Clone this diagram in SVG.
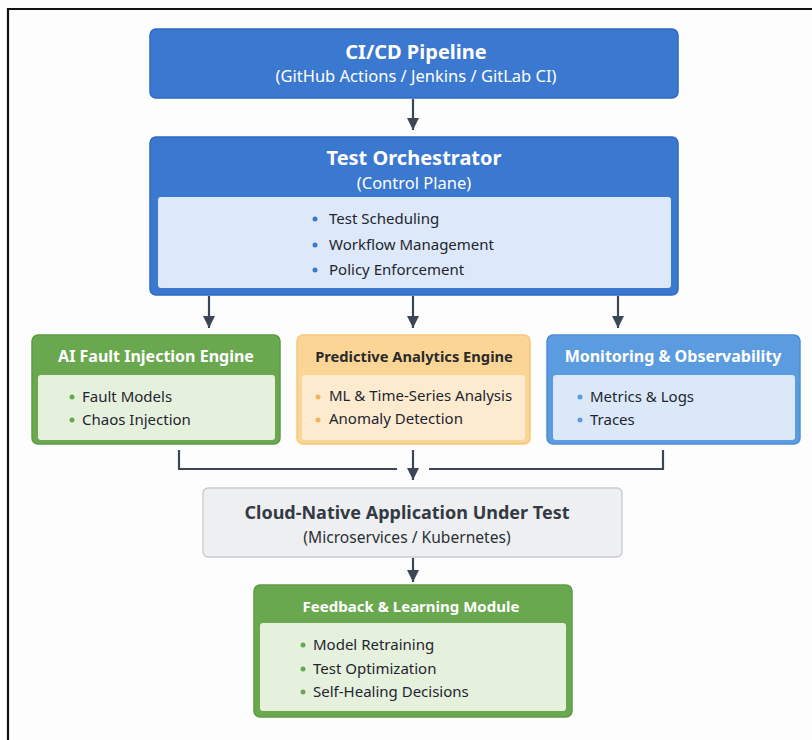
<svg xmlns="http://www.w3.org/2000/svg" width="812" height="740" viewBox="0 0 812 740">
<defs>
<marker id="ah" markerWidth="13" markerHeight="13" refX="12" refY="6.5" orient="auto" markerUnits="userSpaceOnUse" viewBox="0 0 13 13">
<path d="M0,0.5 L12,6.5 L0,12.5 z" fill="#3d4654"/>
</marker>
<style>
text{font-family:"Noto Sans","Open Sans","DejaVu Sans",sans-serif;}
.t{font-weight:bold;fill:#fff;text-anchor:middle;}
.s{fill:#fff;text-anchor:middle;font-size:16.5px;}
.b{fill:#1e2530;font-size:15px;}
.conn{stroke:#3d4654;stroke-width:2.2;fill:none;}
</style>
</defs>
<rect x="0" y="0" width="812" height="740" fill="#fdfdfd"/>
<path d="M8,740 V9 H812" fill="none" stroke="#111" stroke-width="2.2"/>

<g id="cicd">
<rect x="150" y="29" width="528" height="69" rx="6" fill="#3b78d0" stroke="#2f68c2" stroke-width="1.5"/>
<text class="t" x="416" y="59" font-size="20">CI/CD Pipeline</text>
<text class="s" x="416" y="82">(GitHub Actions / Jenkins / GitLab CI)</text>
</g>

<g id="orchestrator">
<rect x="150" y="137" width="528" height="158" rx="6" fill="#3b78d0" stroke="#2f68c2" stroke-width="1.5"/>
<rect x="158" y="197" width="513" height="91" rx="3" fill="#dde9f8"/>
<text class="t" x="414" y="165" font-size="20">Test Orchestrator</text>
<text class="s" x="414" y="189">(Control Plane)</text>
<circle cx="315" cy="219" r="2.5" fill="#3b78d0"/>
<circle cx="315" cy="245" r="2.5" fill="#3b78d0"/>
<circle cx="315" cy="270" r="2.5" fill="#3b78d0"/>
<text class="b" x="329" y="224">Test Scheduling</text>
<text class="b" x="329" y="250">Workflow Management</text>
<text class="b" x="329" y="275">Policy Enforcement</text>
</g>

<g id="fault">
<rect x="32" y="335" width="248" height="109" rx="6" fill="#6aa84f" stroke="#5e9a45" stroke-width="1.5"/>
<rect x="38" y="375" width="237" height="65" rx="3" fill="#e6f1dd"/>
<text class="t" x="156" y="362" font-size="16">AI Fault Injection Engine</text>
<circle cx="72" cy="397" r="2.5" fill="#6aa84f"/>
<circle cx="72" cy="420" r="2.5" fill="#6aa84f"/>
<text class="b" x="82" y="402">Fault Models</text>
<text class="b" x="82" y="425">Chaos Injection</text>
</g>

<g id="predictive">
<rect x="297" y="335" width="233" height="109" rx="6" fill="#fbd596" stroke="#f6c777" stroke-width="1.5"/>
<rect x="302" y="375" width="223" height="65" rx="3" fill="#fdebcf"/>
<text x="414" y="362" font-size="14.7" font-weight="bold" fill="#2a2a2a" text-anchor="middle">Predictive Analytics Engine</text>
<circle cx="318" cy="397" r="2.5" fill="#f3b55a"/>
<circle cx="318" cy="420" r="2.5" fill="#f3b55a"/>
<text class="b" x="329" y="401" font-size="13">ML &amp; Time-Series Analysis</text>
<text class="b" x="329" y="424" font-size="13">Anomaly Detection</text>
</g>

<g id="monitoring">
<rect x="547" y="335" width="253" height="109" rx="6" fill="#5b9be0" stroke="#4e8ed6" stroke-width="1.5"/>
<rect x="553" y="375" width="242" height="65" rx="3" fill="#dae8f7"/>
<text class="t" x="673" y="362" font-size="16">Monitoring &amp; Observability</text>
<circle cx="580" cy="397" r="2.5" fill="#5b9be0"/>
<circle cx="580" cy="420" r="2.5" fill="#5b9be0"/>
<text class="b" x="590" y="402">Metrics &amp; Logs</text>
<text class="b" x="590" y="425">Traces</text>
</g>

<g id="app">
<rect x="203" y="488" width="419" height="69" rx="5" fill="#eeeff1" stroke="#c9cbce" stroke-width="1.3"/>
<text x="407" y="519" font-size="18" font-weight="bold" fill="#333a44" text-anchor="middle">Cloud-Native Application Under Test</text>
<text x="407" y="543" font-size="15.6" fill="#2a2f36" text-anchor="middle">(Microservices / Kubernetes)</text>
</g>

<g id="feedback">
<rect x="254" y="585" width="318" height="132" rx="6" fill="#6aa84f" stroke="#5e9a45" stroke-width="1.5"/>
<rect x="260" y="623" width="306" height="88" rx="3" fill="#e6f1dd"/>
<text class="t" x="411" y="612" font-size="15">Feedback &amp; Learning Module</text>
<circle cx="303" cy="645" r="2.5" fill="#6aa84f"/>
<circle cx="303" cy="669" r="2.5" fill="#6aa84f"/>
<circle cx="303" cy="692" r="2.5" fill="#6aa84f"/>
<text class="b" x="313" y="650">Model Retraining</text>
<text class="b" x="313" y="674">Test Optimization</text>
<text class="b" x="313" y="697">Self-Healing Decisions</text>
</g>

<g id="connectors">
<line class="conn" x1="413" y1="99" x2="413" y2="130" marker-end="url(#ah)"/>
<line class="conn" x1="209" y1="296" x2="209" y2="328" marker-end="url(#ah)"/>
<line class="conn" x1="413" y1="296" x2="413" y2="328" marker-end="url(#ah)"/>
<line class="conn" x1="618" y1="296" x2="618" y2="328" marker-end="url(#ah)"/>
<path class="conn" d="M179,450 V469 H397"/>
<path class="conn" d="M663,450 V469 H429"/>
<line class="conn" x1="413" y1="450" x2="413" y2="480" marker-end="url(#ah)"/>
<line class="conn" x1="413" y1="558" x2="413" y2="582" marker-end="url(#ah)"/>
</g>
</svg>
